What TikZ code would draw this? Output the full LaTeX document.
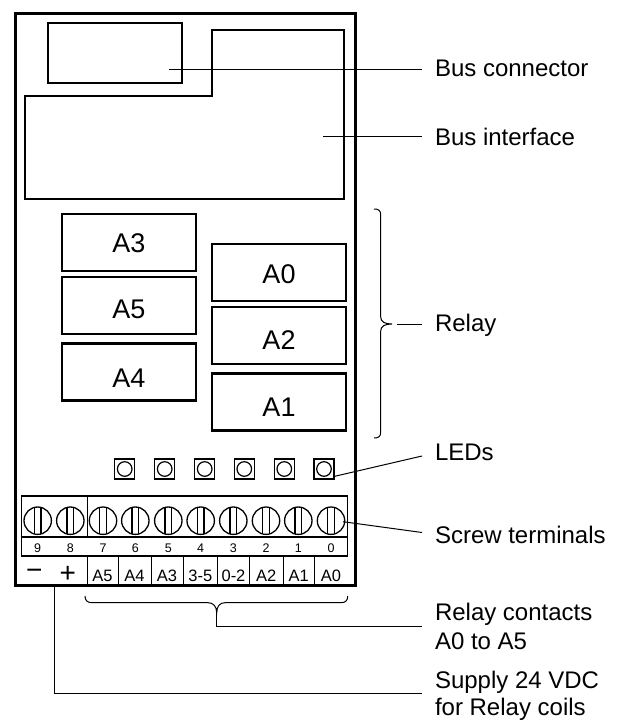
\documentclass[tikz,border=0pt]{standalone}
\usepackage{fontspec}
\setmainfont{Liberation Sans}
\usetikzlibrary{positioning}

\begin{document}
\begin{tikzpicture}[x=1pt, y=-1pt,
  relay/.style={draw, line width=2.6pt, minimum width=134pt, minimum height=57pt, inner sep=0pt, text depth=0pt, text height=#1, font=\fontsize{27}{30}\selectfont},
  led/.style={draw, line width=1.2pt, minimum size=20pt, inner sep=0pt},
  callout/.style={anchor=west, inner ysep=0pt, inner xsep=0pt, outer xsep=13pt, outer ysep=0pt, align=left, font=\fontsize{24}{29}\selectfont},
  leader/.style={line width=1pt},
  contact/.style={inner sep=0pt, font=\fontsize{16.5}{18}\selectfont},
  pin/.style={inner sep=0pt, font=\fontsize{12.5}{14}\selectfont},
  polarity/.style={inner sep=0pt, font=\fontsize{28}{30}\selectfont}]

\useasboundingbox (0,0) rectangle (618,722);

  % Housing
  \node (housing) [draw, line width=3pt, minimum width=340pt, minimum height=572.5pt, inner sep=0pt] at (185,299.5) {};

  % Bus parts
  \node (connector) [draw, line width=2.6pt, minimum width=134pt, minimum height=60pt, inner sep=0pt] at (115,53) {};
  \draw[line width=2.6pt] (212,30) -- (344,30) -- (344,199) -- (25,199) -- (25,96) -- (212,96) -- cycle;

  % Relays
  \node (relayA3) [relay=20.7pt] at (129,242.3) {A3};
  \node (relayA5) [relay=26.7pt, below=3.5pt of relayA3] {A5};
  \node (relayA4) [relay=30.7pt, below=7pt of relayA5] {A4};
  \node (relayA0) [relay=22.7pt] at (279,272.3) {A0};
  \node (relayA2) [relay=28.3pt, below=3.5pt of relayA0] {A2};
  \node (relayA1) [relay=28pt, below=7pt of relayA2] {A1};

  % LEDs
  \foreach \ledx in {124.7,164.7,204.7,244.3,284.3,324} {
    \node (led\ledx) [led] at (\ledx,469) {};
    \draw[line width=1.2pt] (\ledx,469) circle (7.3);
  }

  % Terminal block
  \node (block) [draw, line width=1.5pt, minimum width=326pt, minimum height=60pt, inner sep=0pt] at (184.7,526) {};
  \draw[line width=2pt] (22,537.3) -- (347.7,537.3);
  \draw[line width=1.1pt] (87.3,496) -- (87.3,537.3);
  \draw[line width=0.9pt] (87.3,555.7) -- (87.3,585);
  \foreach \termx/\pinno in {37.7/9,70.3/8,103/7,135.3/6,168.3/5,200.7/4,233.3/3,266/2,298.3/1,331/0} {
    \draw[line width=1.3pt] (\termx,520.7) circle (13.7);
    \draw[line width=1.3pt] (\termx-3.2,507.4) -- (\termx-3.2,534) (\termx+3.2,507.4) -- (\termx+3.2,534);
    \node (pin\pinno) [pin] at (\termx,548) {\pinno};
  }
  \foreach \sepx in {118.3,151.3,183.3,217.3,249.7,283,314.3} {
    \draw[line width=0.9pt] (\sepx,555.7) -- (\sepx,585);
  }
  \foreach \contx/\contname in {102.5/A5,134.5/A4,167/A3,200.3/3-5,233.5/0-2,266.3/A2,298.7/A1,331/A0} {
    \node (contact\contname) [contact] at (\contx,576) {\contname};
  }
  \node (minus) [polarity] at (34.3,574) {−};
  \node (plus) [polarity] at (67.7,574) {+};

  % Braces
  \coordinate (relaytip) at (392,324);
  \draw[leader] (374,209) .. controls (378,209) and (380.7,210) .. (380.7,215) -- (380.7,317) .. controls (380.7,322) and (385,324) .. (relaytip) .. controls (385,324) and (380.7,326) .. (380.7,331) -- (380.7,432) .. controls (380.7,437) and (378,438) .. (374,438);
  \coordinate (contacttip) at (216.7,613);
  \draw[leader] (85,596) .. controls (85,600) and (87,602.7) .. (92,602.7) -- (208,602.7) .. controls (213,602.7) and (216.7,606) .. (contacttip) .. controls (216.7,606) and (220,602.7) .. (225,602.7) -- (341,602.7) .. controls (346,602.7) and (347.7,600) .. (347.7,596);

  % Labels
  \node (buslabel) [callout] at (422,68) {Bus connector};
  \node (ifacelabel) [callout] at (422,137) {Bus interface};
  \node (relaylabel) [callout] at (422,325) {Relay};
  \node (ledlabel) [callout] at (422,452) {LEDs};
  \node (screwlabel) [callout] at (422,535) {Screw terminals};
  \node (contactlabel) [callout] at (422,626.5) {Relay contacts\\A0 to A5};
  \node (supplylabel) [callout] at (422,696) {Supply 24 VDC\\[-1.5pt]for Relay coils};

  % Leaders
  \coordinate (busstart) at (169,70);
  \coordinate (busend) at (422,70);
  \coordinate (ifacestart) at (323,136.5);
  \coordinate (ifaceend) at (422,136.5);
  \coordinate (relaystart) at (396.7,324);
  \coordinate (relayend) at (422,324);
  \coordinate (ledstart) at (333,476.7);
  \coordinate (ledend) at (422,456);
  \coordinate (screwstart) at (343,521.7);
  \coordinate (screwend) at (422,532.5);
  \coordinate (supplystart) at (54,586);
  \coordinate (supplyend) at (422,693.3);
  \draw[leader] (busstart) -- (busend);
  \draw[leader] (ifacestart) -- (ifaceend);
  \draw[leader] (relaystart) -- (relayend);
  \draw[leader] (ledstart) -- (ledend);
  \draw[leader] (screwstart) -- (screwend);
  \draw[leader] (contacttip) |- (contactlabel.west);
  \draw[leader] (supplystart) |- (supplyend);

\end{tikzpicture}
\end{document}
